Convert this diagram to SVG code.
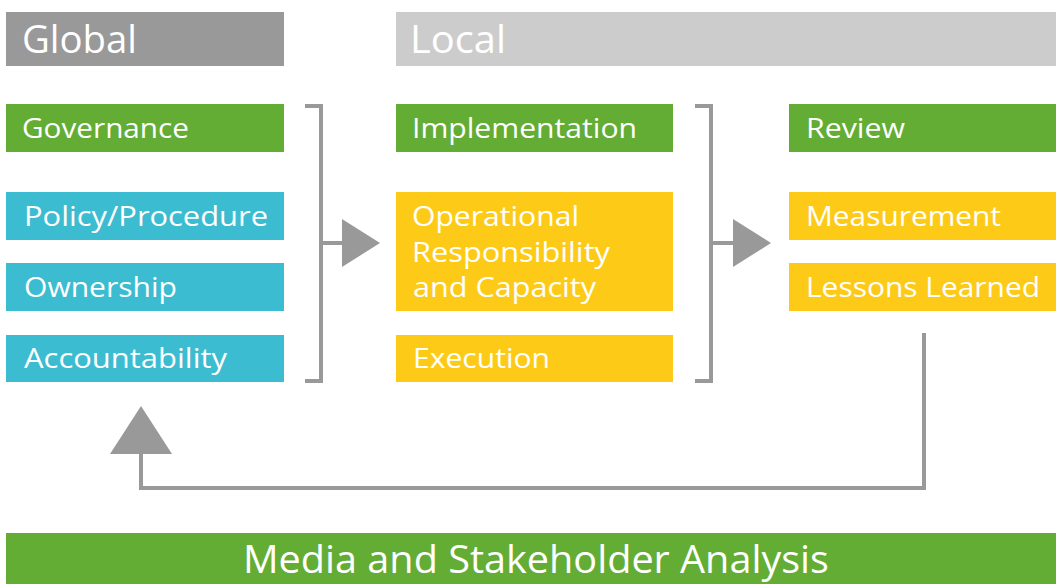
<svg xmlns="http://www.w3.org/2000/svg" width="1056" height="584" viewBox="0 0 1056 584">
<style>
.t{font-family:"Open Sans","Noto Sans","DejaVu Sans",sans-serif;fill:#ffffff;font-weight:400}
.s{font-size:27px}
.h{font-size:38px}
.g{fill:#63ad34}.b{fill:#3bbcd0}.y{fill:#fdcb17}
.ln{fill:none;stroke:#999999;stroke-width:4}
.ar{fill:#999999}
</style>
<rect width="1056" height="584" fill="#ffffff"/>
<g id="global"><rect x="6" y="12" width="278" height="54" fill="#999999"/><text class="t h" x="22" y="53" textLength="115" lengthAdjust="spacingAndGlyphs">Global</text></g>
<g id="local"><rect x="396" y="12" width="660" height="54" fill="#cccccc"/><text class="t h" x="410" y="53" textLength="96" lengthAdjust="spacingAndGlyphs">Local</text></g>
<g id="governance"><rect class="g" x="6" y="104" width="278" height="48"/><text class="t s" x="22" y="138" textLength="167" lengthAdjust="spacingAndGlyphs">Governance</text></g>
<g id="policy"><rect class="b" x="6" y="192" width="278" height="48"/><text class="t s" x="24" y="226" textLength="244" lengthAdjust="spacingAndGlyphs">Policy/Procedure</text></g>
<g id="ownership"><rect class="b" x="6" y="263" width="278" height="48"/><text class="t s" x="24" y="297" textLength="153" lengthAdjust="spacingAndGlyphs">Ownership</text></g>
<g id="accountability"><rect class="b" x="6" y="335" width="278" height="47"/><text class="t s" x="24" y="368" textLength="203" lengthAdjust="spacingAndGlyphs">Accountability</text></g>
<g id="implementation"><rect class="g" x="396" y="104" width="277" height="48"/><text class="t s" x="412" y="138" textLength="225" lengthAdjust="spacingAndGlyphs">Implementation</text></g>
<g id="operational"><rect class="y" x="396" y="192" width="277" height="119"/><text class="t s" x="412" y="226" textLength="167" lengthAdjust="spacingAndGlyphs">Operational</text><text class="t s" x="412" y="262" textLength="198" lengthAdjust="spacingAndGlyphs">Responsibility</text><text class="t s" x="413" y="297" textLength="183" lengthAdjust="spacingAndGlyphs">and Capacity</text></g>
<g id="execution"><rect class="y" x="396" y="335" width="277" height="47"/><text class="t s" x="413" y="368" textLength="137" lengthAdjust="spacingAndGlyphs">Execution</text></g>
<g id="review"><rect class="g" x="789" y="104" width="267" height="48"/><text class="t s" x="806" y="138" textLength="99" lengthAdjust="spacingAndGlyphs">Review</text></g>
<g id="measurement"><rect class="y" x="789" y="192" width="267" height="48"/><text class="t s" x="806" y="226" textLength="195" lengthAdjust="spacingAndGlyphs">Measurement</text></g>
<g id="lessons"><rect class="y" x="789" y="263" width="267" height="48"/><text class="t s" x="806" y="297" textLength="234" lengthAdjust="spacingAndGlyphs">Lessons Learned</text></g>
<g id="media"><rect class="g" x="6" y="533" width="1050" height="51"/><text class="t" style="font-size:38px" x="243" y="573" textLength="586" lengthAdjust="spacingAndGlyphs">Media and Stakeholder Analysis</text></g>
<g id="connectors">
<path class="ln" d="M305 106 H321 V381 H305"/>
<path class="ln" d="M321 243 H344"/>
<polygon class="ar" points="342,219 380,243 342,267"/>
<path class="ln" d="M695 106 H711 V381 H695"/>
<path class="ln" d="M711 243 H735"/>
<polygon class="ar" points="733,219 771,243 733,267"/>
<path class="ln" d="M924 333 V488 H141 V452"/>
<polygon class="ar" points="141,406 172,454 110,454"/>
</g>
</svg>
